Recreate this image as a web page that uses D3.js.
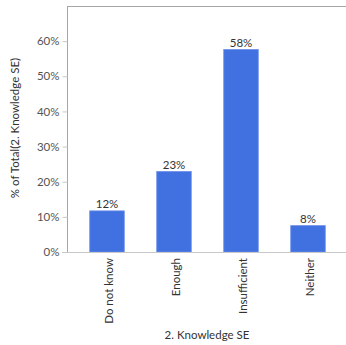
<!DOCTYPE html>
<html>
<head>
<meta charset="utf-8">
<script src="https://cdn.jsdelivr.net/npm/d3@7"></script>
<style>
  body { margin: 0; background: #fff; }
  svg text { font-family: Lato, "Noto Sans", sans-serif; }
</style>
</head>
<body>
<svg id="chart" width="346" height="345"></svg>
<script>
// data
var categories = ["Do not know", "Enough", "Insufficient", "Neither"];
var percents = [11.7, 22.9, 57.6, 7.5];
var yTicks = [0, 10, 20, 30, 40, 50, 60];

var svg = d3.select("#chart");
var plotLeft = 67, plotTop = 6, plotRight = 346, baseY = 252;

var x = d3.scaleBand().domain(categories).range([73.5, 341.5])
    .paddingInner(0.485).paddingOuter(0.2425);
var y = d3.scaleLinear().domain([0, 70]).range([baseY, plotTop]);

// frame: top border and left axis line
svg.append("line").attr("x1", plotLeft).attr("x2", plotRight)
    .attr("y1", plotTop + 0.5).attr("y2", plotTop + 0.5)
    .attr("stroke", "#a6a6a6");

var yaxis = svg.append("g").attr("transform", "translate(" + (plotLeft + 0.5) + ",0)")
    .call(d3.axisLeft(y).tickValues(yTicks).tickSize(5).tickPadding(3)
      .tickFormat(function(d){return d + "%";}));
yaxis.select(".domain").attr("stroke", "#a6a6a6").attr("d", "M0," + plotTop + "V" + baseY);
yaxis.selectAll(".tick line").attr("stroke", "#c8c8c8");
yaxis.selectAll(".tick text").attr("fill", "#555").style("font-size", "11.5px");

// bars
svg.selectAll(".bar").data(categories).enter().append("rect")
    .attr("class", "bar")
    .attr("x", function(d){return x(d);})
    .attr("y", function(d, i){return y(percents[i]);})
    .attr("width", x.bandwidth())
    .attr("height", function(d, i){return baseY - y(percents[i]);})
    .attr("fill", "#4170e0")
    .attr("stroke", "#6a8ee8")
    .attr("stroke-width", 0.8);

// value labels
svg.selectAll(".vlabel").data(categories).enter().append("text")
    .attr("class", "vlabel")
    .attr("x", function(d){return x(d) + x.bandwidth() / 2;})
    .attr("y", function(d, i){return y(percents[i]) - 3;})
    .attr("text-anchor", "middle")
    .attr("fill", "#333")
    .style("font-size", "11.5px")
    .text(function(d, i){return Math.round(percents[i]) + "%";});

// baseline
svg.append("line").attr("x1", plotLeft - 5).attr("x2", plotRight)
    .attr("y1", baseY + 0.5).attr("y2", baseY + 0.5)
    .attr("stroke", "#c8c8c8");

// x category labels, rotated
svg.selectAll(".xlabel").data(categories).enter().append("text")
    .attr("class", "xlabel")
    .attr("transform", function(d){return "translate(" + (x(d) + x.bandwidth() / 2 + 6) + "," + (baseY + 6) + ") rotate(-90)";})
    .attr("text-anchor", "end")
    .attr("fill", "#333")
    .style("font-size", "11.5px")
    .text(function(d){return d;});

// axis titles
svg.append("text").attr("x", 207).attr("y", 339)
    .attr("text-anchor", "middle").attr("fill", "#333").style("font-size", "11.5px")
    .text("2. Knowledge SE");
svg.append("text").attr("transform", "translate(19,128) rotate(-90)")
    .attr("text-anchor", "middle").attr("fill", "#333").style("font-size", "11.5px")
    .text("% of Total(2. Knowledge SE)");
</script>
</body>
</html>
